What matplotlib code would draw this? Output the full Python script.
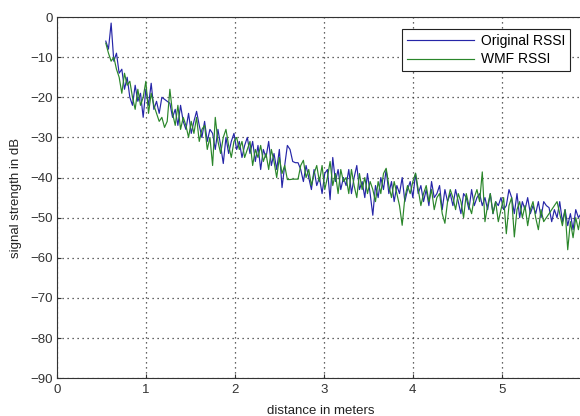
import matplotlib
matplotlib.use("Agg")
import matplotlib.pyplot as plt

plt.rcParams['font.family'] = ['Liberation Sans', 'DejaVu Sans']

distance = [
    0.55, 0.58, 0.61, 0.64, 0.67, 0.70, 0.73, 0.76, 0.79, 0.82,
    0.85, 0.88, 0.91, 0.94, 0.97, 1.00, 1.03, 1.06, 1.09, 1.12,
    1.15, 1.18, 1.21, 1.24, 1.27, 1.30, 1.33, 1.36, 1.39, 1.42,
    1.45, 1.48, 1.51, 1.54, 1.57, 1.60, 1.63, 1.66, 1.69, 1.72,
    1.75, 1.78, 1.81, 1.84, 1.87, 1.90, 1.93, 1.96, 1.99, 2.02,
    2.05, 2.08, 2.11, 2.14, 2.17, 2.20, 2.23, 2.26, 2.29, 2.32,
    2.35, 2.38, 2.41, 2.44, 2.47, 2.50, 2.53, 2.56, 2.59, 2.62,
    2.65, 2.68, 2.71, 2.74, 2.77, 2.80, 2.83, 2.86, 2.89, 2.92,
    2.95, 2.98, 3.01, 3.04, 3.07, 3.10, 3.13, 3.16, 3.19, 3.22,
    3.25, 3.28, 3.31, 3.34, 3.37, 3.40, 3.43, 3.46, 3.49, 3.52,
    3.55, 3.58, 3.61, 3.64, 3.67, 3.70, 3.73, 3.76, 3.79, 3.82,
    3.85, 3.88, 3.91, 3.94, 3.97, 4.00, 4.03, 4.06, 4.09, 4.12,
    4.15, 4.18, 4.21, 4.24, 4.27, 4.30, 4.33, 4.36, 4.39, 4.42,
    4.45, 4.48, 4.51, 4.54, 4.57, 4.60, 4.63, 4.66, 4.69, 4.72,
    4.75, 4.78, 4.81, 4.84, 4.87, 4.90, 4.93, 4.96, 4.99, 5.02,
    5.05, 5.08, 5.11, 5.14, 5.17, 5.20, 5.23, 5.26, 5.29, 5.32,
    5.35, 5.38, 5.41, 5.44, 5.47, 5.50, 5.53, 5.56, 5.59, 5.62,
    5.65, 5.68, 5.71, 5.74, 5.77, 5.80, 5.83, 5.86, 5.89,
]

original_rssi = [
    -6, -8, -1.5, -11, -9, -14, -13, -18, -15, -20,
    -22, -17, -21, -19, -25, -18, -22, -16.5, -23, -21,
    -24, -20, -20.5, -21, -21.5, -25, -23, -27, -22, -26,
    -28, -24, -29, -26, -23.5, -27, -30, -26, -31, -28,
    -29, -33, -28, -32, -36.5, -30, -34, -31, -29, -33,
    -31, -35, -32, -30, -34, -31, -36, -32, -38, -33,
    -35, -31, -37, -34, -38, -33, -42.5, -37, -32, -33,
    -36, -36.3, -36.3, -38, -41, -37, -40, -43, -38, -42,
    -40, -44, -39, -38, -45.5, -35, -41, -38, -43, -40,
    -42, -38, -44, -40, -37, -43, -41, -45, -39, -44,
    -49.4, -42, -45, -40, -43, -38, -44, -41, -46, -42,
    -44, -40, -46, -43, -41, -45, -39, -44, -42, -46,
    -43, -47, -41, -45, -44, -42, -48, -43, -46, -44,
    -47, -43, -46, -49, -44, -45, -48, -43, -47, -45,
    -44, -47, -45, -48, -44, -49, -46, -47, -45, -48,
    -47, -43, -45, -49, -44, -50, -46, -48, -45, -49,
    -47, -49, -46, -50, -46, -47, -47.5, -51, -48, -50,
    -46, -51, -48, -52, -49, -53, -48, -50, -49,
]

wmf_rssi = [
    -6.5, -9, -11, -10, -13, -15, -19, -14, -17, -16,
    -20, -23, -18, -22, -20, -16, -24, -19, -22, -24,
    -26, -25, -27.5, -26, -18, -24, -27, -22, -28, -25,
    -27, -30, -26, -29, -25, -31, -28, -27, -33, -30,
    -37, -25, -31, -34, -30, -28, -32, -35, -31, -30,
    -33, -31, -35, -33, -31, -37, -33, -35, -32, -36,
    -34, -38, -33, -36, -40, -35, -39, -37, -40.5, -40.5,
    -40.4, -40.4, -40.4, -37, -35.7, -40, -38, -42, -39, -37,
    -41, -37, -43, -40, -36, -42, -39, -44, -38, -41,
    -40, -44, -38, -42, -45, -39, -43, -40, -44, -41,
    -43, -46, -41, -44, -39, -37.7, -42, -45, -41, -44,
    -47, -51.9, -45, -42, -44, -41, -38.9, -43, -47, -44,
    -42, -46, -43, -48, -45, -44, -49, -51.4, -46, -43,
    -45, -48, -44, -46, -50, -44, -47, -49, -45, -43,
    -46, -38.6, -51, -47, -44, -49, -46, -51, -48, -45,
    -54, -47, -45, -54.8, -48, -46, -50, -47, -52, -48,
    -46, -50, -53, -48, -51, -50, -49, -48, -47, -46,
    -49, -52, -48, -58, -51, -55, -50, -53, -49,
]

x_ticks = [0, 1, 2, 3, 4, 5]
y_ticks = [0, -10, -20, -30, -40, -50, -60, -70, -80, -90]

fig = plt.figure(figsize=(5.8, 4.16), dpi=100)
ax = fig.add_axes([0.098, 0.091, 0.91, 0.868])

ax.plot(distance, original_rssi, color='#2626a8', lw=0.85, label='Original RSSI')
ax.plot(distance, wmf_rssi, color='#2a862a', lw=0.85, label='WMF RSSI')

ax.set_xlim(0, 5.93)
ax.set_ylim(-90, 0)
ax.set_xticks(x_ticks)
ax.set_yticks(y_ticks)
ax.tick_params(axis='y', direction='in', labelsize=9.5, length=3, pad=3,
               colors='#333333', labelcolor='#333333')
ax.tick_params(axis='x', direction='in', labelsize=9.5, length=3, pad=4,
               colors='#333333', labelcolor='#333333')
ax.grid(True, linestyle=(0, (1, 3)), color='#333333', lw=0.9)
for s in ax.spines.values():
    s.set_color('#333333')

ax.set_xlabel('distance in meters', fontsize=9.5, labelpad=7, color='#222222')
ax.set_ylabel('signal strength in dB', fontsize=9.5, labelpad=6, color='#222222')

leg = ax.legend(loc='upper right', bbox_to_anchor=(0.985, 0.985), fontsize=10,
                fancybox=False, framealpha=1, edgecolor='#222222', handlelength=4.8,
                borderpad=0.35, labelspacing=0.3, handletextpad=0.5)
leg.get_frame().set_linewidth(0.8)

fig.savefig('out.png', dpi=100)
